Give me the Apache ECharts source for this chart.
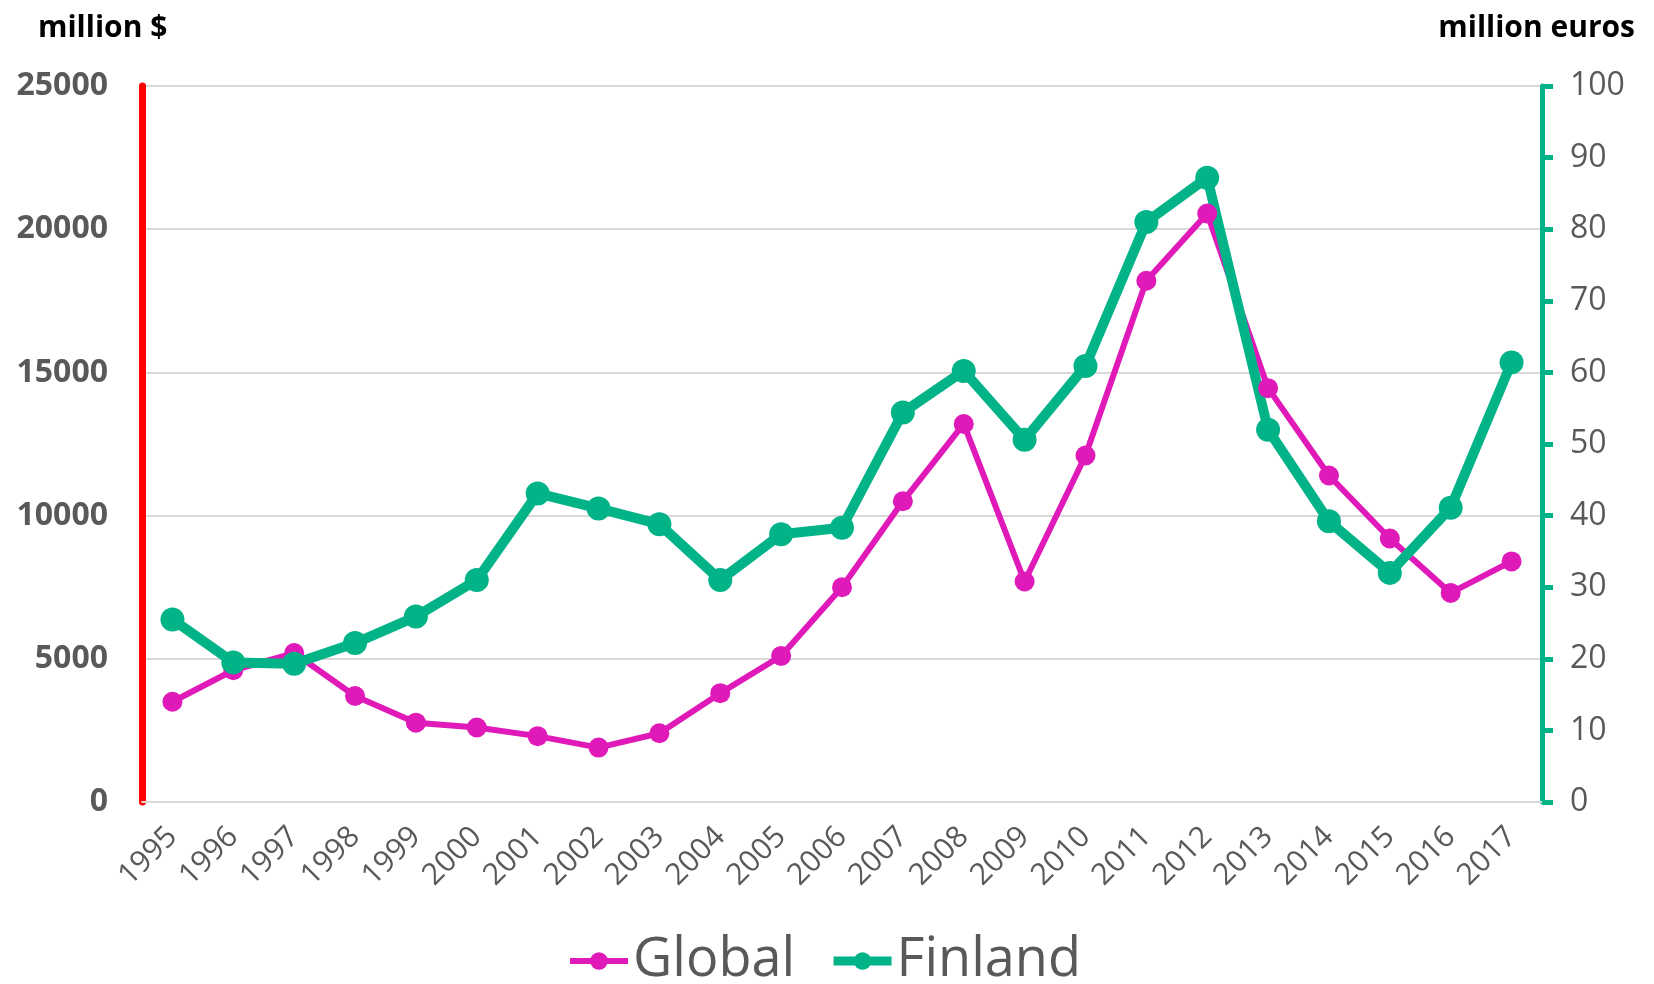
<!DOCTYPE html>
<html>
<head>
<meta charset="utf-8">
<title>Global vs Finland</title>
<script src="https://cdn.jsdelivr.net/npm/echarts@6/dist/echarts.min.js"></script>
<style>
    html, body { margin: 0; padding: 0; background: #fff; }
    #chart { width: 1654px; height: 984px; }
</style>
</head>
<body>
<div id="chart"></div>
<script>
// years on the x axis
var years = ['1995', '1996', '1997', '1998', '1999', '2000', '2001', '2002', '2003', '2004', '2005', '2006',
    '2007', '2008', '2009', '2010', '2011', '2012', '2013', '2014', '2015', '2016', '2017'];
// million $, left axis
var globalValues = [3500, 4600, 5200, 3700, 2770, 2600, 2300, 1900, 2400, 3800, 5100, 7500,
    10500, 13200, 7700, 12100, 18200, 20550, 14450, 11400, 9200, 7300, 8400];
// million euros, right axis
var finlandValues = [25.5, 19.5, 19.3, 22.2, 25.9, 31.0, 43.1, 41.0, 38.8, 31.0, 37.4, 38.3,
    54.4, 60.2, 50.6, 60.9, 81.0, 87.2, 52.0, 39.2, 32.0, 41.1, 61.4];
var leftTicks = { min: 0, max: 25000, interval: 5000 };
var rightTicks = { min: 0, max: 100, interval: 10 };

var font = '"Open Sans", "Liberation Sans", sans-serif';
var gray = '#595959';

var myChart = echarts.init(document.getElementById('chart'));
var option = {
    animation: false,
    color: ['#E01AB9', '#02B388'],
    grid: { left: 142, right: 112, top: 86, bottom: 182 },
    graphic: [
        { type: 'text', left: 38, top: 13, style: { text: 'million $', font: 'bold 30px ' + font, fill: '#000' } },
        { type: 'text', right: 19, top: 13, style: { text: 'million euros', font: 'bold 30px ' + font, fill: '#000' } }
    ],
    legend: {
        left: 562,
        top: 929,
        itemWidth: 58,
        itemHeight: 22,
        itemGap: 34,
        textStyle: { fontFamily: font, fontSize: 54, color: gray },
        data: [
            { name: 'Global', lineStyle: { width: 6 } },
            { name: 'Finland', lineStyle: { width: 9 } }
        ]
    },
    xAxis: {
        type: 'category',
        data: years,
        axisLine: { lineStyle: { color: '#d9d9d9', width: 2 } },
        axisTick: { show: false },
        axisLabel: { rotate: 45, margin: 30, fontFamily: font, fontSize: 30, color: gray }
    },
    yAxis: [
        {
            type: 'value',
            min: leftTicks.min, max: leftTicks.max, interval: leftTicks.interval,
            axisLine: { show: true, lineStyle: { color: '#FF0000', width: 7 } },
            axisTick: { show: false },
            axisLabel: {
                margin: 34, fontFamily: font, fontSize: 32, fontWeight: 'bold', color: gray,
                formatter: function (v) { return String(v); }
            },
            splitLine: { lineStyle: { color: '#d9d9d9', width: 2 } }
        },
        {
            type: 'value',
            position: 'right',
            min: rightTicks.min, max: rightTicks.max, interval: rightTicks.interval,
            axisLine: { show: true, lineStyle: { color: '#02B388', width: 5 } },
            axisTick: { show: true, inside: false, length: 11, lineStyle: { color: '#02B388', width: 5 } },
            axisLabel: { margin: 28, fontFamily: font, fontSize: 32, color: gray },
            splitLine: { show: false }
        }
    ],
    series: [
        {
            name: 'Global',
            type: 'line',
            yAxisIndex: 0,
            data: globalValues,
            symbol: 'circle',
            symbolSize: 20,
            lineStyle: { width: 6 }
        },
        {
            name: 'Finland',
            type: 'line',
            yAxisIndex: 1,
            data: finlandValues,
            symbol: 'circle',
            symbolSize: 24,
            lineStyle: { width: 10 }
        }
    ]
};
myChart.setOption(option);
</script>
</body>
</html>
